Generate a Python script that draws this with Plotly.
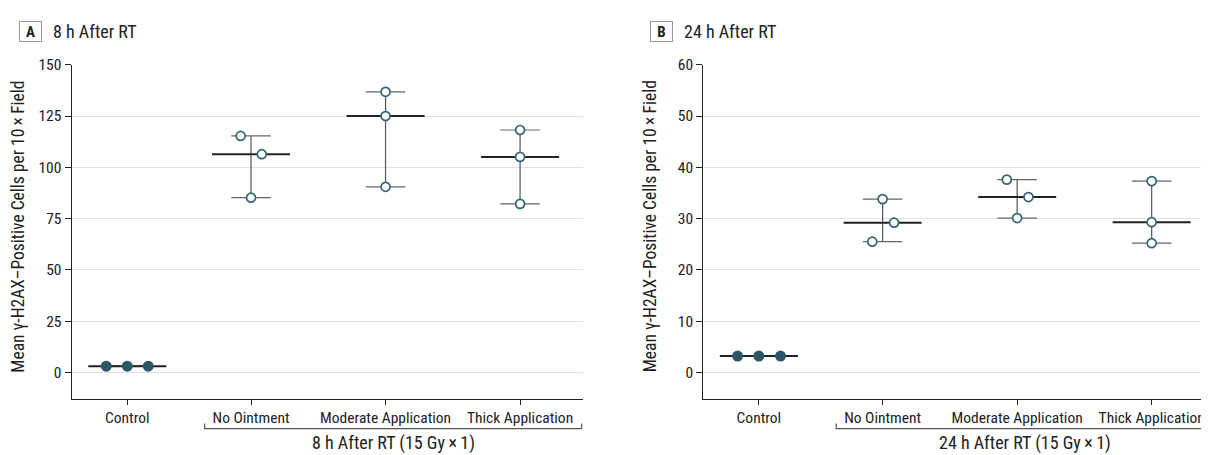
import plotly.graph_objects as go
import numpy as np

# ---------------- data ----------------
categories = ["Control", "No Ointment", "Moderate Application", "Thick Application"]

a_control = [3.1, 3.1, 3.1]
a_no_ointment = [115.3, 106.4, 85.2]
a_moderate = [136.8, 125.0, 90.5]
a_thick = [118.2, 105.1, 82.2]

b_control = [3.2, 3.2, 3.2]
b_no_ointment = [33.8, 29.2, 25.5]
b_moderate = [37.6, 34.2, 30.1]
b_thick = [37.3, 29.3, 25.2]

a_yticks = [0, 25, 50, 75, 100, 125, 150]
b_yticks = [0, 10, 20, 30, 40, 50, 60]

# ---------------- layout / style constants ----------------
W, H = 1209, 455
OFF = 8  # page body margin of the html page


def px(x):
    return (x - OFF) / W


def py(y):
    return 1 - (y - OFF) / H


cat_pos = [0, 0.92, 1.92, 2.92]
# beeswarm-like horizontal offsets of the points (style, in x units)
a_offsets = [[-0.156, 0, 0.156], [-0.077, 0.08, 0], [0, 0, 0], [0, 0, 0]]
b_offsets = [[-0.158, 0, 0.161], [0, 0.085, -0.077], [-0.077, 0.084, 0], [0, 0, 0]]

FONT = "Liberation Sans Narrow, Roboto Condensed, DejaVu Sans Condensed, Arial Narrow, Roboto, sans-serif"
FILL = "#2d5767"
EDGE = "#356577"
MED_HW = 0.29
CAP_HW = 0.147

fig = go.Figure()


def add_panel(groups, offsets, xa, ya):
    for gi, vals in enumerate(groups):
        c = cat_pos[gi]
        v = np.array(vals, dtype=float)
        lo, hi, med = v.min(), v.max(), float(np.median(v))
        fig.add_trace(go.Scatter(x=[c, c], y=[lo, hi], mode="lines",
                                 line=dict(color="#555555", width=1.2),
                                 xaxis=xa, yaxis=ya, hoverinfo="skip", showlegend=False))
        fig.add_trace(go.Scatter(x=[c - CAP_HW, c + CAP_HW, None, c - CAP_HW, c + CAP_HW],
                                 y=[hi, hi, None, lo, lo], mode="lines",
                                 line=dict(color="#666666", width=1.2),
                                 xaxis=xa, yaxis=ya, hoverinfo="skip", showlegend=False))
        fig.add_trace(go.Scatter(x=[c - MED_HW, c + MED_HW], y=[med, med], mode="lines",
                                 line=dict(color="#222222", width=2),
                                 xaxis=xa, yaxis=ya, hoverinfo="skip", showlegend=False))
    for gi, vals in enumerate(groups):
        c = cat_pos[gi]
        xs = [c + o for o in offsets[gi]]
        if gi == 0:
            marker = dict(size=11, color=FILL, line=dict(width=0))
        else:
            marker = dict(size=9, color="white", line=dict(color=EDGE, width=1.7))
        fig.add_trace(go.Scatter(x=xs, y=vals, mode="markers", marker=marker,
                                 xaxis=xa, yaxis=ya, showlegend=False, cliponaxis=False))


add_panel([a_control, a_no_ointment, a_moderate, a_thick], a_offsets, "x", "y")
add_panel([b_control, b_no_ointment, b_moderate, b_thick], b_offsets, "x2", "y2")

shift = 631.6
ydom = [py(397.3), py(56.7)]
axis_common = dict(showline=True, linecolor="#222222", linewidth=1.3, ticks="outside",
                   tickcolor="#222222", tickwidth=1.2, zeroline=False, fixedrange=True,
                   tickfont=dict(family=FONT, size=15.5, color="#222222"))

fig.update_layout(
    width=W, height=H,
    margin=dict(l=0, r=0, t=0, b=0),
    paper_bgcolor="white", plot_bgcolor="white",
    font=dict(family=FONT, color="#222222"),
    xaxis=dict(domain=[px(71.7), px(583.3)], range=[-0.413, 3.39],
               tickvals=cat_pos, ticktext=categories, ticklen=5, showgrid=False,
               anchor="y", **axis_common),
    yaxis=dict(domain=ydom, range=[-12.7, 150], tickvals=a_yticks, ticklen=6,
               showgrid=True, gridcolor="#e2e2e2", gridwidth=1.2, anchor="x", **axis_common),
    xaxis2=dict(domain=[px(71.7 + shift), px(583.3 + shift)], range=[-0.413, 3.39],
                tickvals=cat_pos, ticktext=categories, ticklen=5, showgrid=False,
                anchor="y2", **axis_common),
    yaxis2=dict(domain=ydom, range=[-5.1, 60], tickvals=b_yticks, ticklen=6,
                showgrid=True, gridcolor="#e2e2e2", gridwidth=1.2, anchor="x2", **axis_common),
)

ytitle = "Mean γ-H2AX–Positive Cells per 10\u2009×\u2009Field"
annotations = []
shapes = []
for i, (letter, title, sub) in enumerate([("A", "8 h After RT", "8 h After RT (15 Gy\u2009×\u20091)"),
                                         ("B", "24 h After RT", "24 h After RT (15 Gy\u2009×\u20091)")]):
    dx = shift * i
    xr = "x" if i == 0 else "x2"
    annotations.append(dict(text=f"<b>{letter}</b>", x=px(30 + dx), y=py(23.3),
                            xref="paper", yref="paper", xanchor="center", yanchor="middle",
                            showarrow=False, font=dict(family=FONT, size=15, color="#222222"),
                            bordercolor="#999999", borderwidth=1, borderpad=1, width=19, height=17))
    annotations.append(dict(text=title, x=px(50.7 + dx), y=py(23.3),
                            xref="paper", yref="paper", xanchor="left", yanchor="middle",
                            showarrow=False, font=dict(family=FONT, size=18, color="#222222")))
    annotations.append(dict(text=ytitle, x=px(18 + dx), y=py(222), textangle=-90,
                            xref="paper", yref="paper", xanchor="center", yanchor="middle",
                            showarrow=False, font=dict(family=FONT, size=17.5, color="#222222")))
    annotations.append(dict(text=sub, x=px(393.2 + dx), y=py(443),
                            xref="paper", yref="paper", xanchor="center", yanchor="middle",
                            showarrow=False, font=dict(family=FONT, size=18, color="#222222")))
    x0 = cat_pos[1] - 0.345
    x1 = cat_pos[3] + 0.458
    yl = py(428)
    yu = py(422.7)
    shapes.append(dict(type="path", xref=xr, yref="paper",
                       path=f"M {x0},{yu} L {x0},{yl} L {x1},{yl} L {x1},{yu}",
                       line=dict(color="#555555", width=1.2)))

fig.update_layout(annotations=annotations, shapes=shapes)
fig.write_html("out.html")
